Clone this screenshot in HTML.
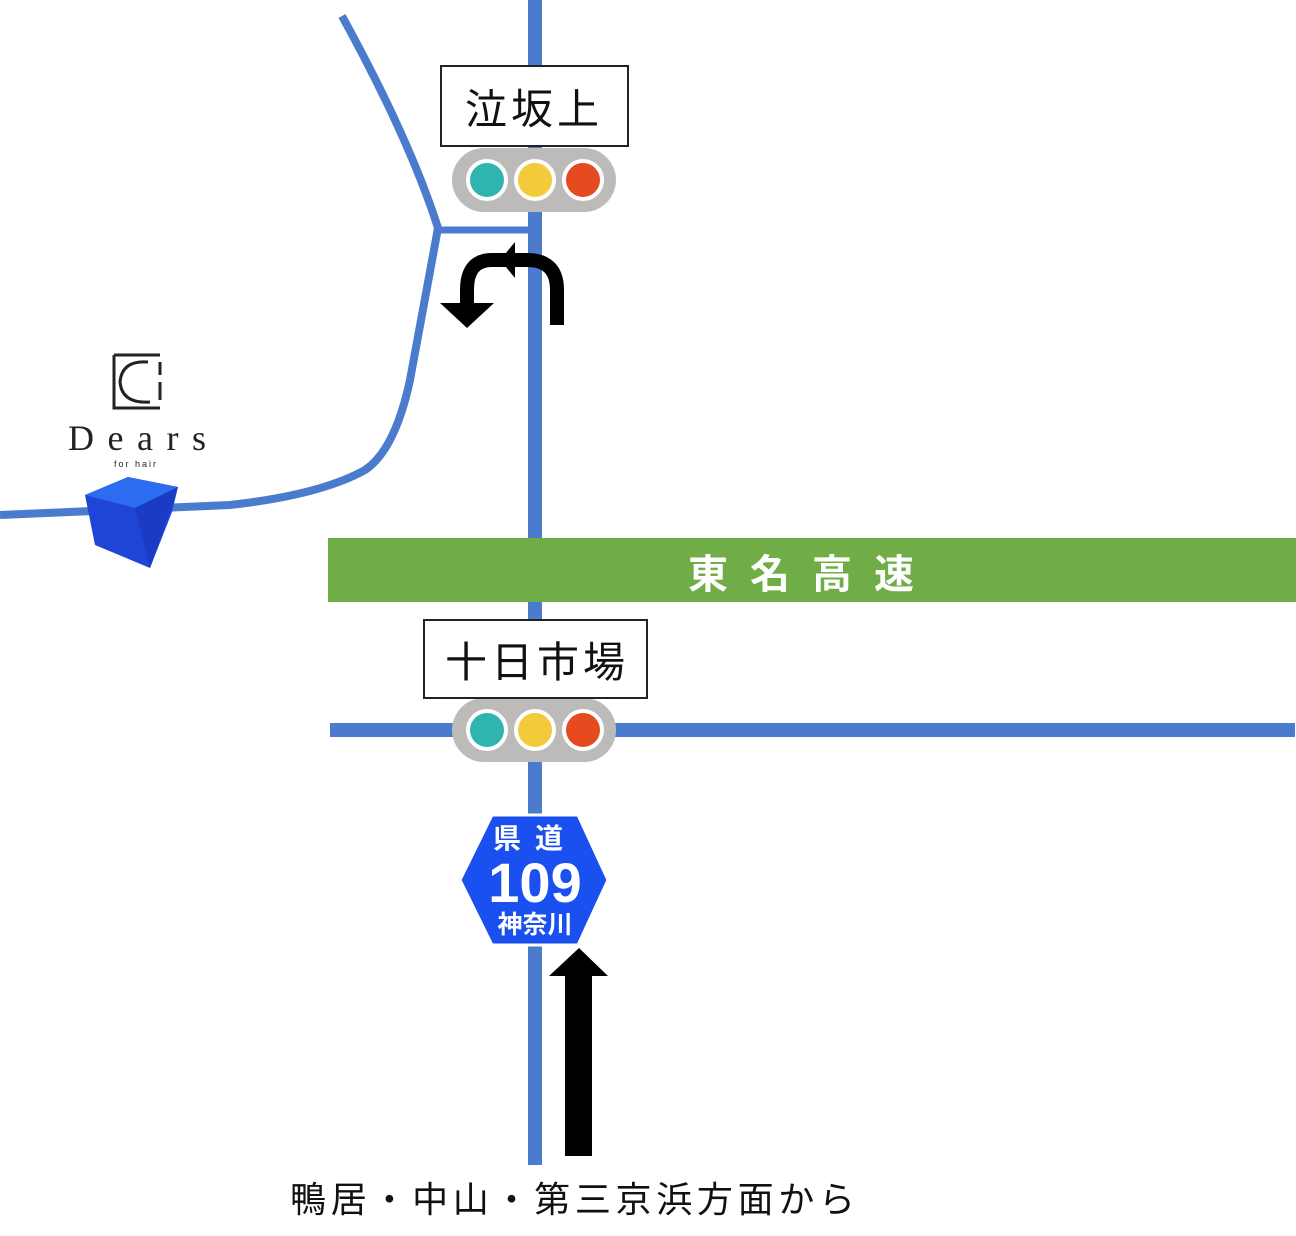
<!DOCTYPE html>
<html><head><meta charset="utf-8"><style>
html,body{margin:0;padding:0;background:#fff;}
svg{display:block;}
text{font-family:"Liberation Sans","Noto Sans CJK JP",sans-serif;}
</style></head><body>
<svg width="1296" height="1236" viewBox="0 0 1296 1236" xmlns="http://www.w3.org/2000/svg">
<g stroke="#4a7bcc" fill="none" stroke-linecap="butt">
<line x1="535" y1="0" x2="535" y2="1165" stroke-width="14"/>
<line x1="330" y1="730" x2="1295" y2="730" stroke-width="14"/>
<path d="M342 16 Q410 140 438 228 L410 380 Q395 450 365 470 Q320 495 230 505 L0 515" stroke-width="8"/>
<line x1="438" y1="230" x2="535" y2="230" stroke-width="7"/>
</g>
<rect x="328" y="538" width="968" height="64" fill="#71ad47"/>
<text x="812" y="588" font-size="40" fill="#fff" text-anchor="middle" letter-spacing="22" font-weight="bold">東名高速</text>
<g>
<rect x="452" y="148" width="164" height="64" rx="32" fill="#bdbbb9"/>
<circle cx="487" cy="180" r="19" fill="#2fb5b0" stroke="#fff" stroke-width="4"/>
<circle cx="535" cy="180" r="19" fill="#f3cb3a" stroke="#fff" stroke-width="4"/>
<circle cx="583" cy="180" r="19" fill="#e64b1f" stroke="#fff" stroke-width="4"/>
<rect x="452" y="698" width="164" height="64" rx="32" fill="#bdbbb9"/>
<circle cx="487" cy="730" r="19" fill="#2fb5b0" stroke="#fff" stroke-width="4"/>
<circle cx="535" cy="730" r="19" fill="#f3cb3a" stroke="#fff" stroke-width="4"/>
<circle cx="583" cy="730" r="19" fill="#e64b1f" stroke="#fff" stroke-width="4"/>
</g>
<rect x="441" y="66" width="187" height="80" fill="#fff" stroke="#222" stroke-width="2"/>
<text x="534" y="124" font-size="42" text-anchor="middle" fill="#111" letter-spacing="4">泣坂上</text>
<rect x="424" y="620" width="223" height="78" fill="#fff" stroke="#222" stroke-width="2"/>
<text x="537" y="677" font-size="42" text-anchor="middle" fill="#111" letter-spacing="4">十日市場</text>
<path d="M557 325 L557 290 Q557 260 527 260 L492 260 Q467 260 467 290 L467 305" fill="none" stroke="#000" stroke-width="14"/>
<polygon points="440,303 494,303 467,328" fill="#000"/>
<polygon points="500,260 515,242 515,278" fill="#000"/>
<rect x="565" y="974" width="27" height="182" fill="#000"/>
<polygon points="549,976 608,976 579,948" fill="#000"/>
<polygon points="492,815 578,815 608,880 578,945 492,945 460,880" fill="#1a4ff0" stroke="#fff" stroke-width="3"/>
<text x="535" y="848" font-size="28" fill="#fff" text-anchor="middle" letter-spacing="14" font-weight="bold">県道</text>
<text x="535" y="902" font-size="56" fill="#fff" text-anchor="middle" font-weight="bold">109</text>
<text x="535" y="933" font-size="25" fill="#fff" text-anchor="middle" font-weight="bold">神奈川</text>
<g fill="none" stroke="#222" stroke-width="3">
<path d="M114 355 L160 355 M114 355 L114 408 L160 408 M160 362 L160 375 M160 382 L160 400"/>
<path d="M148 362 Q122 360 120 382 Q122 404 150 402"/>
</g>
<text x="68" y="450" font-size="36" fill="#222" textLength="138" lengthAdjust="spacing" style="font-family:'Liberation Serif',serif">Dears</text>
<text x="136" y="467" font-size="9" fill="#222" text-anchor="middle" letter-spacing="2">for hair</text>
<polygon points="85,495 128,477 178,487 172,512 150,568 95,545" fill="#1f45d6"/>
<polygon points="85,495 128,477 178,487 135,508" fill="#2d6cf0"/>
<polygon points="135,508 178,487 150,568" fill="#1a3cc4"/>
<text x="290" y="1212" font-size="36" fill="#111" textLength="565" lengthAdjust="spacing">鴨居・中山・第三京浜方面から</text>
</svg>
</body></html>
